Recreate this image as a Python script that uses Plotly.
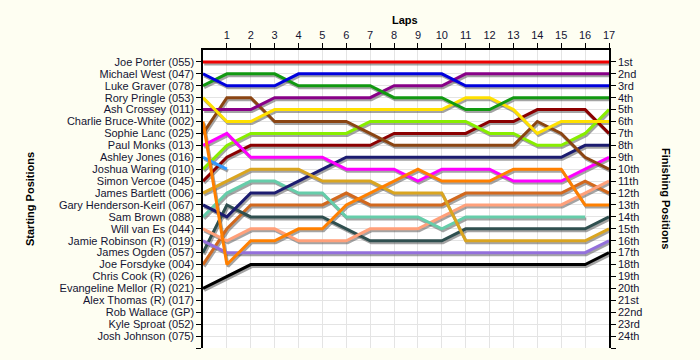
import plotly.graph_objects as go

drivers = [
    "Joe Porter (055)", "Michael West (047)", "Luke Graver (078)", "Rory Pringle (053)",
    "Ash Crossey (011)", "Charlie Bruce-White (002)", "Sophie Lanc (025)", "Paul Monks (013)",
    "Ashley Jones (016)", "Joshua Waring (010)", "Simon Vercoe (045)", "James Bartlett (006)",
    "Gary Henderson-Keirl (067)", "Sam Brown (088)", "Will van Es (044)", "Jamie Robinson (R) (019)",
    "James Ogden (057)", "Joe Forsdyke (004)", "Chris Cook (R) (026)", "Evangeline Mellor (R) (021)",
    "Alex Thomas (R) (017)", "Rob Wallace (GP)", "Kyle Sproat (052)", "Josh Johnson (075)",
]

colors = [
    "#EE0000", "#0000DD", "#119911", "#FFE000",
    "#880088", "#FF8000", "#8B4513", "#FF00FF",
    "#3399FF", "#88EE00", "#8B0000", "#DAA520",
    "#1C1C70", "#66CDAA", "#FFA07A", "#9370DB",
    "#2F4F4F", "#D2691E", "#888888", "#000000",
    "#888888", "#888888", "#888888", "#888888",
]

# position at lap 0 (grid) .. lap 17; empty list = no laps completed
positions = [
    [1, 1, 1, 1, 1, 1, 1, 1, 1, 1, 1, 1, 1, 1, 1, 1, 1, 1],
    [2, 3, 3, 3, 2, 2, 2, 2, 2, 2, 2, 3, 3, 3, 3, 3, 3, 3],
    [3, 2, 2, 2, 3, 3, 3, 3, 4, 4, 4, 5, 5, 4, 4, 4, 4, 4],
    [4, 6, 6, 5, 5, 5, 5, 5, 5, 5, 5, 4, 4, 5, 7, 6, 6, 6],
    [5, 5, 5, 4, 4, 4, 4, 4, 3, 3, 3, 2, 2, 2, 2, 2, 2, 2],
    [6, 18, 16, 16, 15, 15, 13, 12, 11, 10, 11, 11, 11, 10, 10, 10, 13, 13],
    [7, 4, 4, 6, 6, 6, 6, 7, 8, 8, 8, 8, 8, 8, 6, 7, 9, 10],
    [8, 7, 9, 9, 9, 9, 10, 10, 10, 11, 10, 10, 10, 11, 11, 11, 10, 9],
    [9, 10],
    [10, 8, 7, 7, 7, 7, 7, 6, 6, 6, 6, 6, 7, 7, 8, 8, 7, 5],
    [11, 9, 8, 8, 8, 8, 8, 8, 7, 7, 7, 7, 6, 6, 5, 5, 5, 7],
    [12, 11, 10, 10, 10, 11, 11, 11, 12, 12, 12, 16, 16, 16, 16, 16, 16, 15],
    [13, 14, 12, 12, 11, 10, 9, 9, 9, 9, 9, 9, 9, 9, 9, 9, 8, 8],
    [14, 12, 11, 11, 12, 12, 14, 14, 14, 14, 15, 14, 14, 14, 14, 14, 14],
    [15, 16, 15, 15, 16, 16, 16, 15, 15, 15, 14, 13, 13, 13, 13, 13, 12, 11],
    [16, 17, 17, 17, 17, 17, 17, 17, 17, 17, 17, 17, 17, 17, 17, 17, 17, 16],
    [17, 13, 14, 14, 14, 14, 15, 16, 16, 16, 16, 15, 15, 15, 15, 15, 15, 14],
    [18, 15, 13, 13, 13, 13, 12, 13, 13, 13, 13, 12, 12, 12, 12, 12, 11, 12],
    [],
    [20, 19, 18, 18, 18, 18, 18, 18, 18, 18, 18, 18, 18, 18, 18, 18, 18, 17],
    [],
    [],
    [],
    [],
]

lap_ticks = list(range(1, 18))
finish_labels = ["1st", "2nd", "3rd", "4th", "5th", "6th", "7th", "8th", "9th", "10th",
                 "11th", "12th", "13th", "14th", "15th", "16th", "17th", "18th", "19th",
                 "20th", "21st", "22nd", "23rd", "24th"]

W, H = 700, 360
L, R, T, B = 203, 91, 50, 12
pw, ph = W - L - R, H - T - B
n_laps = 17
n_pos = 25
sx = 1.2 * n_laps / pw     # shadow shift in data units
sy = 2.0 * n_pos / ph

fig = go.Figure()

order = list(range(len(drivers)))[::-1]
# shadows on base axes (invisible, shifted)
for i in order:
    p = positions[i]
    if not p:
        continue
    fig.add_trace(go.Scatter(x=list(range(len(p))), y=p, mode="lines",
                             line=dict(color="rgba(90,90,90,0.55)", width=3),
                             xaxis="x", yaxis="y", hoverinfo="skip", showlegend=False))
# main lines
for i in order:
    p = positions[i]
    if not p:
        continue
    fig.add_trace(go.Scatter(x=list(range(len(p))), y=p, mode="lines",
                             line=dict(color=colors[i], width=3),
                             name=drivers[i], xaxis="x2", yaxis="y2", showlegend=False))
# dummy trace to activate right axis
fig.add_trace(go.Scatter(x=[None], y=[None], xaxis="x2", yaxis="y3", showlegend=False))

tickfont = dict(family="Liberation Sans, Arial, sans-serif", size=11, color="#141432")
titlefont = dict(family="Liberation Sans, Arial, sans-serif", size=11, color="#000000")

fig.update_layout(
    width=W, height=H,
    margin=dict(l=L, r=R, t=T, b=B),
    paper_bgcolor="#FEFEF2",
    plot_bgcolor="#FFFFFF",
    showlegend=False,
    xaxis=dict(range=[0 - sx, n_laps - sx], visible=False, showgrid=False, zeroline=False),
    yaxis=dict(range=[n_pos - sy, 0 - sy], visible=False, showgrid=False, zeroline=False),
    xaxis2=dict(overlaying="x", side="top", anchor="y2", range=[0, n_laps],
                tickmode="array", tickvals=lap_ticks, ticktext=[str(v) for v in lap_ticks],
                ticks="outside", ticklen=5, tickcolor="#000", showline=True,
                linecolor="#000", linewidth=1.5, showgrid=True, gridcolor="#E4E4E4",
                zeroline=False, tickfont=tickfont),
    yaxis2=dict(overlaying="y", side="left", anchor="x2", range=[n_pos, 0],
                tickmode="array", tickvals=list(range(1, 26)), ticktext=drivers + [""],
                ticks="outside", ticklen=5, tickcolor="#000", showline=True,
                linecolor="#000", linewidth=1.5, showgrid=True, gridcolor="#E4E4E4",
                zeroline=False, tickfont=tickfont),
    yaxis3=dict(overlaying="y", side="right", anchor="x2", range=[n_pos, 0],
                tickmode="array", tickvals=list(range(1, 26)), ticktext=finish_labels + [""],
                ticks="outside", ticklen=5, tickcolor="#000", showline=True,
                linecolor="#000", linewidth=1.5, showgrid=False,
                zeroline=False, tickfont=tickfont),
    annotations=[
        dict(text="<b>Laps</b>", xref="paper", yref="paper", x=(405 - L) / pw, y=(H - B - 20) / ph,
             showarrow=False, xanchor="center", yanchor="middle", font=titlefont),
        dict(text="<b>Starting Positions</b>", xref="paper", yref="paper", x=(30 - L) / pw,
             y=(H - B - 199) / ph, textangle=-90, showarrow=False,
             xanchor="center", yanchor="middle", font=titlefont),
        dict(text="<b>Finishing Positions</b>", xref="paper", yref="paper", x=(666 - L) / pw,
             y=(H - B - 198) / ph, textangle=90, showarrow=False,
             xanchor="center", yanchor="middle", font=titlefont),
    ],
)

fig.write_html("out.html")
